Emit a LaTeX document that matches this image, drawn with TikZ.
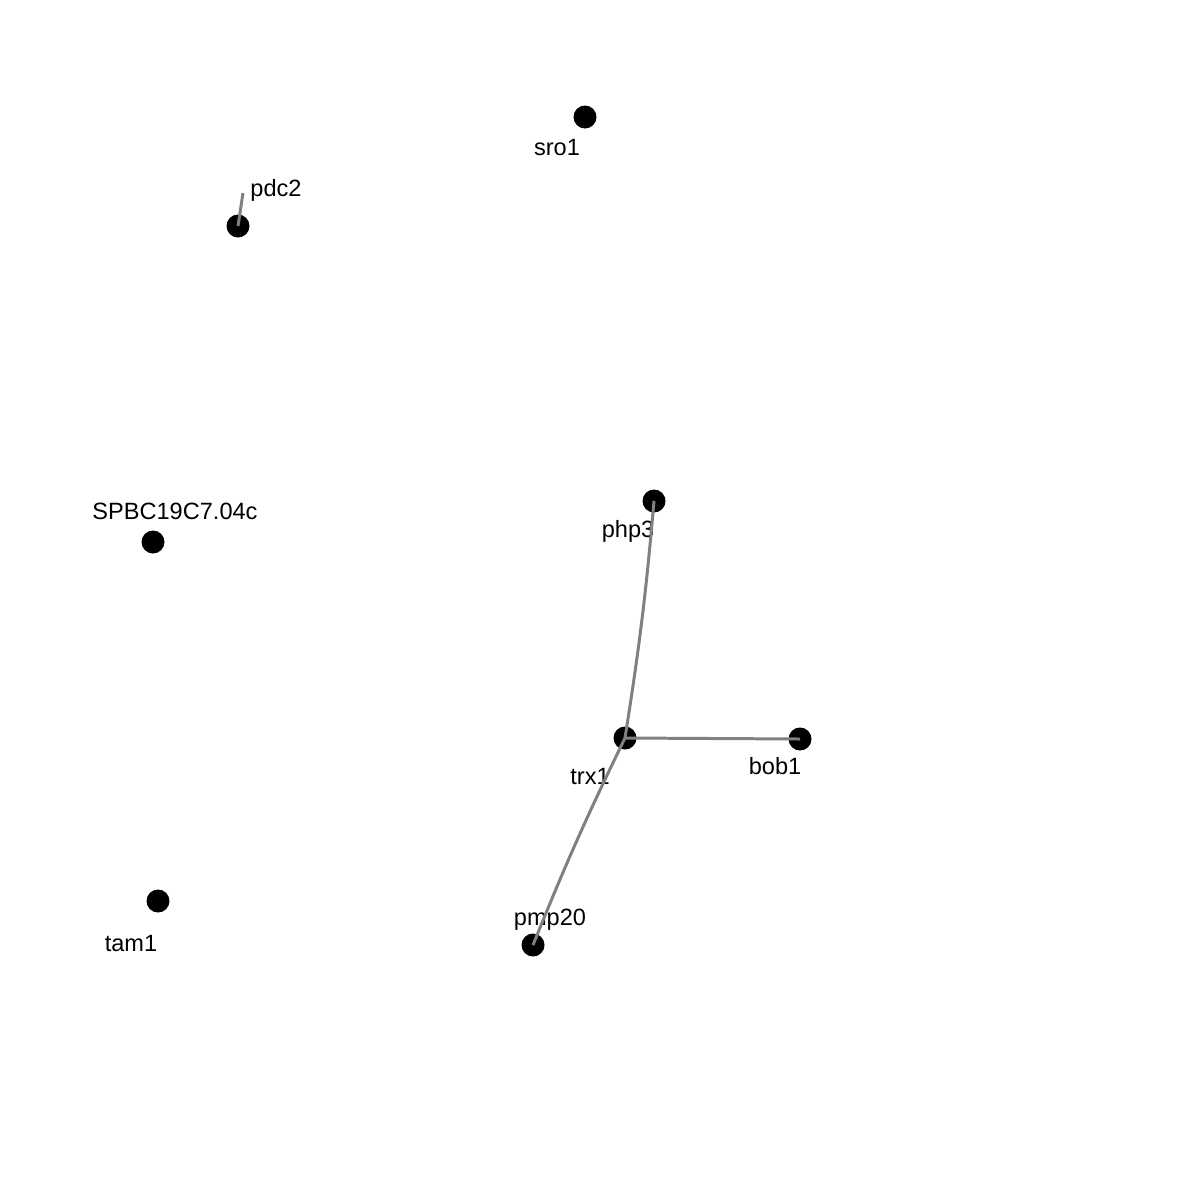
\documentclass[tikz,border=0pt]{standalone}
\usepackage{fontspec}
\setmainfont{Liberation Sans}
\usepackage{tikz}

\tikzset{
  gene/.style = {circle, fill = black, inner sep = 0pt, minimum size = 23\pxu},
  genelabel/.style = {inner sep = 0pt, font = \fontsize{6.7}{8}\selectfont},
  link/.style = {draw = gray, line width = 0.85pt}
}
\newlength{\pxu}
\setlength{\pxu}{0.01cm}

\begin{document}
\begin{tikzpicture}[x = 0.01cm, y = -0.01cm]
              \useasboundingbox (0,0) rectangle (1200,1200);
              % genes
              \node [gene] (sro1) at (585,117) {};
              \node [gene] (pdc2) at (238,226) {};
              \node [gene] (spbc) at (153,542) {};
              \node [gene] (php3) at (654,501) {};
              \node [gene] (trx1) at (625,738) {};
              \node [gene] (bob1) at (800,739) {};
              \node [gene] (tam1) at (158,901) {};
              \node [gene] (pmp20) at (533,945) {};
              % labels
              \node [genelabel] (sro1-l) at (557,148) {sro1};
              \node [genelabel] (pdc2-l) at (276,190) {pdc2};
              \node [genelabel] (spbc-l) at (175,511) {SPBC19C7.04c};
              \node [genelabel] (php3-l) at (628,531) {php3};
              \node [genelabel] (trx1-l) at (590,776) {trx1};
              \node [genelabel] (bob1-l) at (775,766) {bob1};
              \node [genelabel] (tam1-l) at (131,943) {tam1};
              \node [genelabel] (pmp20-l) at (550,920) {pmp20};
              % links
              \coordinate (pdc2-end) at (243,193);
              \draw [link] (pdc2.center) -- (pdc2-end);
              \draw [link] (trx1.center) to [bend right = 2] (php3.center);
              \draw [link] (trx1.center) -- (bob1.center);
              \draw [link] (trx1.center) to [bend right = 2] (pmp20.center);
            \end{tikzpicture}
\end{document}
